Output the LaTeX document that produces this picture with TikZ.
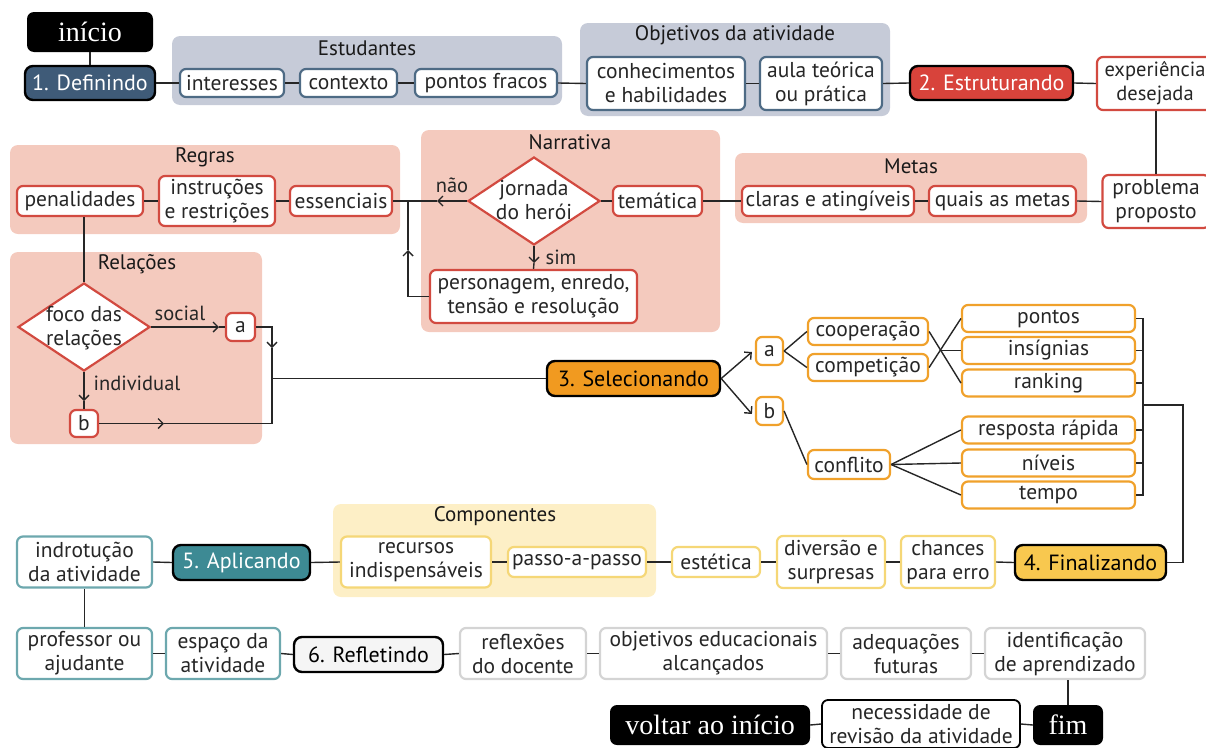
\documentclass[tikz,border=0pt]{standalone}
\usepackage{fontspec}
\setmainfont{PT Sans}
\newfontfamily\tserif{Liberation Serif}
\usetikzlibrary{arrows.meta,shapes.geometric}
\definecolor{grayG}{HTML}{C6CBD8}
\definecolor{navy}{HTML}{3F5B78}
\definecolor{navyB}{HTML}{4E6B85}
\definecolor{redF}{HTML}{D8433B}
\definecolor{redB}{HTML}{D24A40}
\definecolor{salmon}{HTML}{F4CABE}
\definecolor{orangeF}{HTML}{F19A20}
\definecolor{orangeB}{HTML}{F0A12B}
\definecolor{yellowF}{HTML}{F8C84F}
\definecolor{yellowB}{HTML}{F5D777}
\definecolor{cream}{HTML}{FDEFC6}
\definecolor{tealF}{HTML}{3D8A94}
\definecolor{tealB}{HTML}{6DA8AE}
\definecolor{lgray}{HTML}{D4D4D4}
\begin{document}
\begin{tikzpicture}[x=1pt,y=-1pt,
  conn/.style={draw=black!85,line width=1.4pt},
  arr/.style={conn,-{Straight Barb[length=5pt,width=10pt,line width=1.4pt]}},
  sz/.style 2 args={minimum width=#1,minimum height=#2},
  item/.style={draw=#1,line width=2.2pt,fill=white,rounded corners=6pt,align=center,inner sep=0pt,text=black!85,font=\fontsize{21.5}{24}\selectfont},
  stepbox/.style={draw=black,line width=2.4pt,fill=#1,rounded corners=8pt,inner sep=0pt,font=\fontsize{22}{24}\selectfont},
  endbox/.style={fill=black,rounded corners=7pt,inner sep=0pt,text=white,font=\tserif\fontsize{28}{30}\selectfont},
  ttl/.style={font=\fontsize{21}{24}\selectfont,text=black!90,inner sep=0pt},
  lbl/.style={font=\fontsize{20.5}{23}\selectfont,text=black!85,inner sep=0pt},
  dia/.style={diamond,draw=redB,line width=2.2pt,fill=white,inner sep=0pt,font=\fontsize{21.5}{24}\selectfont,text=black!85},
]
\useasboundingbox (0,0) rectangle (1206,747);

% ---------- groups
\fill[grayG,rounded corners=8pt] (172,36) rectangle (562,105);
\fill[grayG,rounded corners=8pt] (580,23) rectangle (890,116);
\fill[salmon,rounded corners=8pt] (10,145) rectangle (400,234);
\fill[salmon,rounded corners=8pt] (10,252) rectangle (262,444);
\fill[salmon,rounded corners=8pt] (421,130) rectangle (720,332);
\fill[salmon,rounded corners=8pt] (735,153) rectangle (1087,223);
\fill[cream,rounded corners=8pt] (333,504) rectangle (656,597);
\node[ttl] (tEst) at (367,48) {Estudantes};
\node[ttl] (tObj) at (735,35) {Objetivos da atividade};
\node[ttl] (tReg) at (205,157) {Regras};
\node[ttl] (tRel) at (137,264) {Relações};
\node[ttl] (tNar) at (570,142) {Narrativa};
\node[ttl] (tMet) at (911,166) {Metas};
\node[ttl] (tCom) at (495,516) {Componentes};

% ---------- row 1
\node[endbox,sz={126}{40}] (ini) at (90,32) {início};
\node[stepbox=navy,sz={130}{34},text=white] (def) at (90,83) {1. Definindo};
\node[item=navyB,sz={104}{28}] (int) at (232,83) {interesses};
\node[item=navyB,sz={97}{28}] (ctx) at (348.5,83) {contexto};
\node[item=navyB,sz={142}{28}] (pf) at (486,83) {pontos fracos};
\node[item=navyB,sz={158}{53}] (con) at (666,83.5) {conhecimentos\\e habilidades};
\node[item=navyB,sz={122}{53}] (aula) at (821,83.5) {aula teórica\\ou prática};
\node[stepbox=redF,sz={163}{34},text=white] (est) at (991.5,83) {2. Estruturando};
\node[item=redB,sz={116}{53},font=\fontsize{20.5}{24}\selectfont] (exp) at (1155,83.5) {experiência\\desejada};

% ---------- row 2
\node[item=redB,sz={107}{53}] (prob) at (1156,201.5) {problema\\proposto};
\node[item=redB,sz={172}{30}] (cla) at (828,201) {claras e atingíveis};
\node[item=redB,sz={147}{30}] (qua) at (1002.5,201) {quais as metas};
\node[item=redB,sz={89}{30}] (tem) at (657.5,201) {temática};
\node[dia,sz={132}{88}] (jor) at (534,201) {\smash{\raisebox{-0.3em}{\makebox[0pt]{\begin{tabular}{@{}c@{}}jornada\\do herói\end{tabular}}}}};
\node[item=redB,sz={207}{53}] (per) at (533.5,296.5) {personagem, enredo,\\tensão e resolução};
\node[item=redB,sz={126}{30}] (pen) at (80,201) {penalidades};
\node[item=redB,sz={116}{50}] (ins) at (217,201) {instruções\\e restrições};
\node[item=redB,sz={102}{30}] (ess) at (341,201) {essenciais};

% ---------- relações
\node[dia,sz={132}{88}] (foco) at (84,327) {\smash{\raisebox{-0.3em}{\makebox[0pt]{\begin{tabular}{@{}c@{}}foco das\\relações\end{tabular}}}}};
\node[item=redB,sz={29}{28}] (ra) at (240.5,327) {a};
\node[item=redB,sz={28}{27}] (rb) at (84,423.5) {b};
\node[lbl] (lsoc) at (180,313) {social};
\node[lbl] (lind) at (137,383) {individual};
\node[lbl] (lnao) at (452,185) {não};
\node[lbl] (lsim) at (561,257) {sim};

% ---------- selecionando
\node[stepbox=orangeF,sz={173}{35}] (sel) at (633.5,378.5) {3. Selecionando};
\node[item=orangeB,sz={27}{28}] (sa) at (769.5,351) {a};
\node[item=orangeB,sz={27}{28}] (sb) at (769.5,411) {b};
\node[item=orangeB,sz={120}{27}] (coop) at (868,331.5) {cooperação};
\node[item=orangeB,sz={120}{27}] (comp) at (868,367.5) {competição};
\node[item=orangeB,sz={82}{29}] (conf) at (849,464.5) {conflito};
\node[item=orangeB,sz={173}{27}] (pon) at (1048.5,318.5) {pontos};
\node[item=orangeB,sz={173}{27}] (insi) at (1048.5,350.5) {insígnias};
\node[item=orangeB,sz={173}{27}] (ran) at (1048.5,383) {ranking};
\node[item=orangeB,sz={173}{27}] (res) at (1048.5,430) {resposta rápida};
\node[item=orangeB,sz={173}{27}] (niv) at (1048.5,463) {níveis};
\node[item=orangeB,sz={173}{27}] (tmp) at (1048.5,495) {tempo};

% ---------- row 4
\node[stepbox=yellowF,sz={151}{35}] (fin) at (1090.5,562.5) {4. Finalizando};
\node[item=yellowB,sz={94}{52}] (cha) at (948,562) {chances\\para erro};
\node[item=yellowB,sz={108}{52}] (div) at (831,562) {diversão e\\surpresas};
\node[item=yellowB,sz={88}{30}] (esta) at (716,562) {estética};
\node[item=yellowB,sz={138}{30}] (pas) at (577,562) {passo-a-passo};
\node[item=yellowB,sz={150}{51}] (rec) at (416,562) {recursos\\indispensáveis};
\node[stepbox=tealF,sz={137}{35},text=white] (apl) at (241.5,562.5) {5. Aplicando};
\node[item=tealB,sz={135}{51}] (ind) at (84.5,562) {indrotução\\da atividade};

% ---------- row 5
\node[item=tealB,sz={135}{51}] (prof) at (84.5,653.5) {professor ou\\ajudante};
\node[item=tealB,sz={114}{51}] (esp) at (223,653.5) {espaço da\\atividade};
\node[stepbox=white!96!black,sz={149}{35}] (refl) at (368.5,654.5) {6. Refletindo};
\node[item=lgray,sz={126}{51}] (rdoc) at (523,653.5) {reflexões\\do docente};
\node[item=lgray,sz={227}{51}] (obj) at (713.5,653.5) {objetivos educacionais\\alcançados};
\node[item=lgray,sz={130}{51}] (adq) at (906,653.5) {adequações\\futuras};
\node[item=lgray,sz={160}{51}] (idt) at (1065,653.5) {identificação\\de aprendizado};
\node[endbox,sz={70}{40}] (fim) at (1068,725) {fim};
\node[item=black,line width=1.8pt,sz={198}{48}] (nec) at (921,724) {necessidade de\\revisão da atividade};
\node[endbox,sz={200}{40}] (vol) at (710,725) {voltar ao início};

% ---------- connectors row 1
\draw[conn] (ini.south) -- (def.north);
\draw[conn] (def.east) -- (int.west);
\draw[conn] (int.east) -- (ctx.west);
\draw[conn] (ctx.east) -- (pf.west);
\draw[conn] (pf.east) -- (con.west);
\draw[conn] (con.east) -- (aula.west);
\draw[conn] (aula.east) -- (est.west);
\draw[conn] (est.east) -- (exp.west);
\draw[conn] (prob.north) -- (prob.north |- exp.south);
% row 2
\draw[conn] (prob.west) -- (qua.east);
\draw[conn] (qua.west) -- (cla.east);
\draw[conn] (cla.west) -- (tem.east);
\draw[conn] (tem.west) -- (jor.east);
\coordinate (naoA) at (437,201);
\draw[arr] (jor.west) -- (naoA);
\draw[conn] (naoA) -- (ess.east);
\coordinate (simA) at (534,263);
\draw[arr] (jor.south) -- (simA);
\draw[conn] (simA) -- (per.north);
\coordinate (upA) at (408,250);
\draw[arr] (per.west) -| (upA);
\draw[conn] (upA) -- (upA |- ess.east);
\draw[conn] (ess.west) -- (ins.east);
\draw[conn] (ins.west) -- (pen.east);
\draw[conn] (foco.north) -- (foco.north |- pen.south);
% relações
\coordinate (socA) at (219,327);
\draw[arr] (foco.east) -- (socA);
\draw[conn] (socA) -- (ra.west);
\coordinate (indA) at (84,401);
\draw[arr] (foco.south) -- (indA);
\draw[conn] (indA) -- (rb.north);
\coordinate (jA) at (272,348);
\draw[arr] (ra.east) -| (jA);
\coordinate (jB) at (164,423.5);
\draw[arr] (rb.east) -- (jB);
\draw[conn] (jB) -- (jA |- rb.east) -- (jA);
\draw[conn] (jA |- sel.west) -- (sel.west);
% selecionando
\draw[arr] (sel.east) -- ([xshift=-3pt,yshift=-1pt]sa.west);
\draw[arr] (sel.east) -- ([xshift=-3pt,yshift=-3pt]sb.west);
\draw[conn] (sa.east) -- (coop.west);
\draw[conn] (sa.east) -- (comp.west);
\draw[conn] (coop.east) -- (ran.west);
\draw[conn] (comp.east) -- (pon.west);
\draw[conn] (940,350.5) -- (insi.west);
\draw[conn] (sb.east) -- (conf.west);
\draw[conn] (conf.east) -- (res.west);
\draw[conn] (conf.east) -- (niv.west);
\draw[conn] (conf.east) -- (tmp.west);
\coordinate (brT) at (1143,318.5);
\coordinate (brM) at (1143,405);
\coordinate (brR) at (1183,405);
\draw[conn] (pon.east) -- (brT) -- (brT |- tmp.east) -- (tmp.east);
\draw[conn] (insi.east) -- (brT |- insi.east);
\draw[conn] (ran.east) -- (brT |- ran.east);
\draw[conn] (res.east) -- (brT |- res.east);
\draw[conn] (niv.east) -- (brT |- niv.east);
\draw[conn] (brM) -- (brR) |- (fin.east);
% row 4
\draw[conn] (fin.west) -- (cha.east);
\draw[conn] (cha.west) -- (div.east);
\draw[conn] (div.west) -- (esta.east);
\draw[conn] (esta.west) -- (pas.east);
\draw[conn] (pas.west) -- (rec.east);
\draw[conn] (rec.west) -- (apl.east);
\draw[conn] (apl.west) -- (ind.east);
\draw[conn] (ind.south) -- (prof.north);
% row 5
\draw[conn] (prof.east) -- (esp.west);
\draw[conn] (esp.east) -- (refl.west);
\draw[conn] (refl.east) -- (rdoc.west);
\draw[conn] (rdoc.east) -- (obj.west);
\draw[conn] (obj.east) -- (adq.west);
\draw[conn] (adq.east) -- (idt.west);
\draw[conn] (fim.north) -- (fim.north |- idt.south);
\draw[conn] (fim.west) -- (nec.east);
\draw[conn] (nec.west) -- (vol.east);
\end{tikzpicture}
\end{document}
